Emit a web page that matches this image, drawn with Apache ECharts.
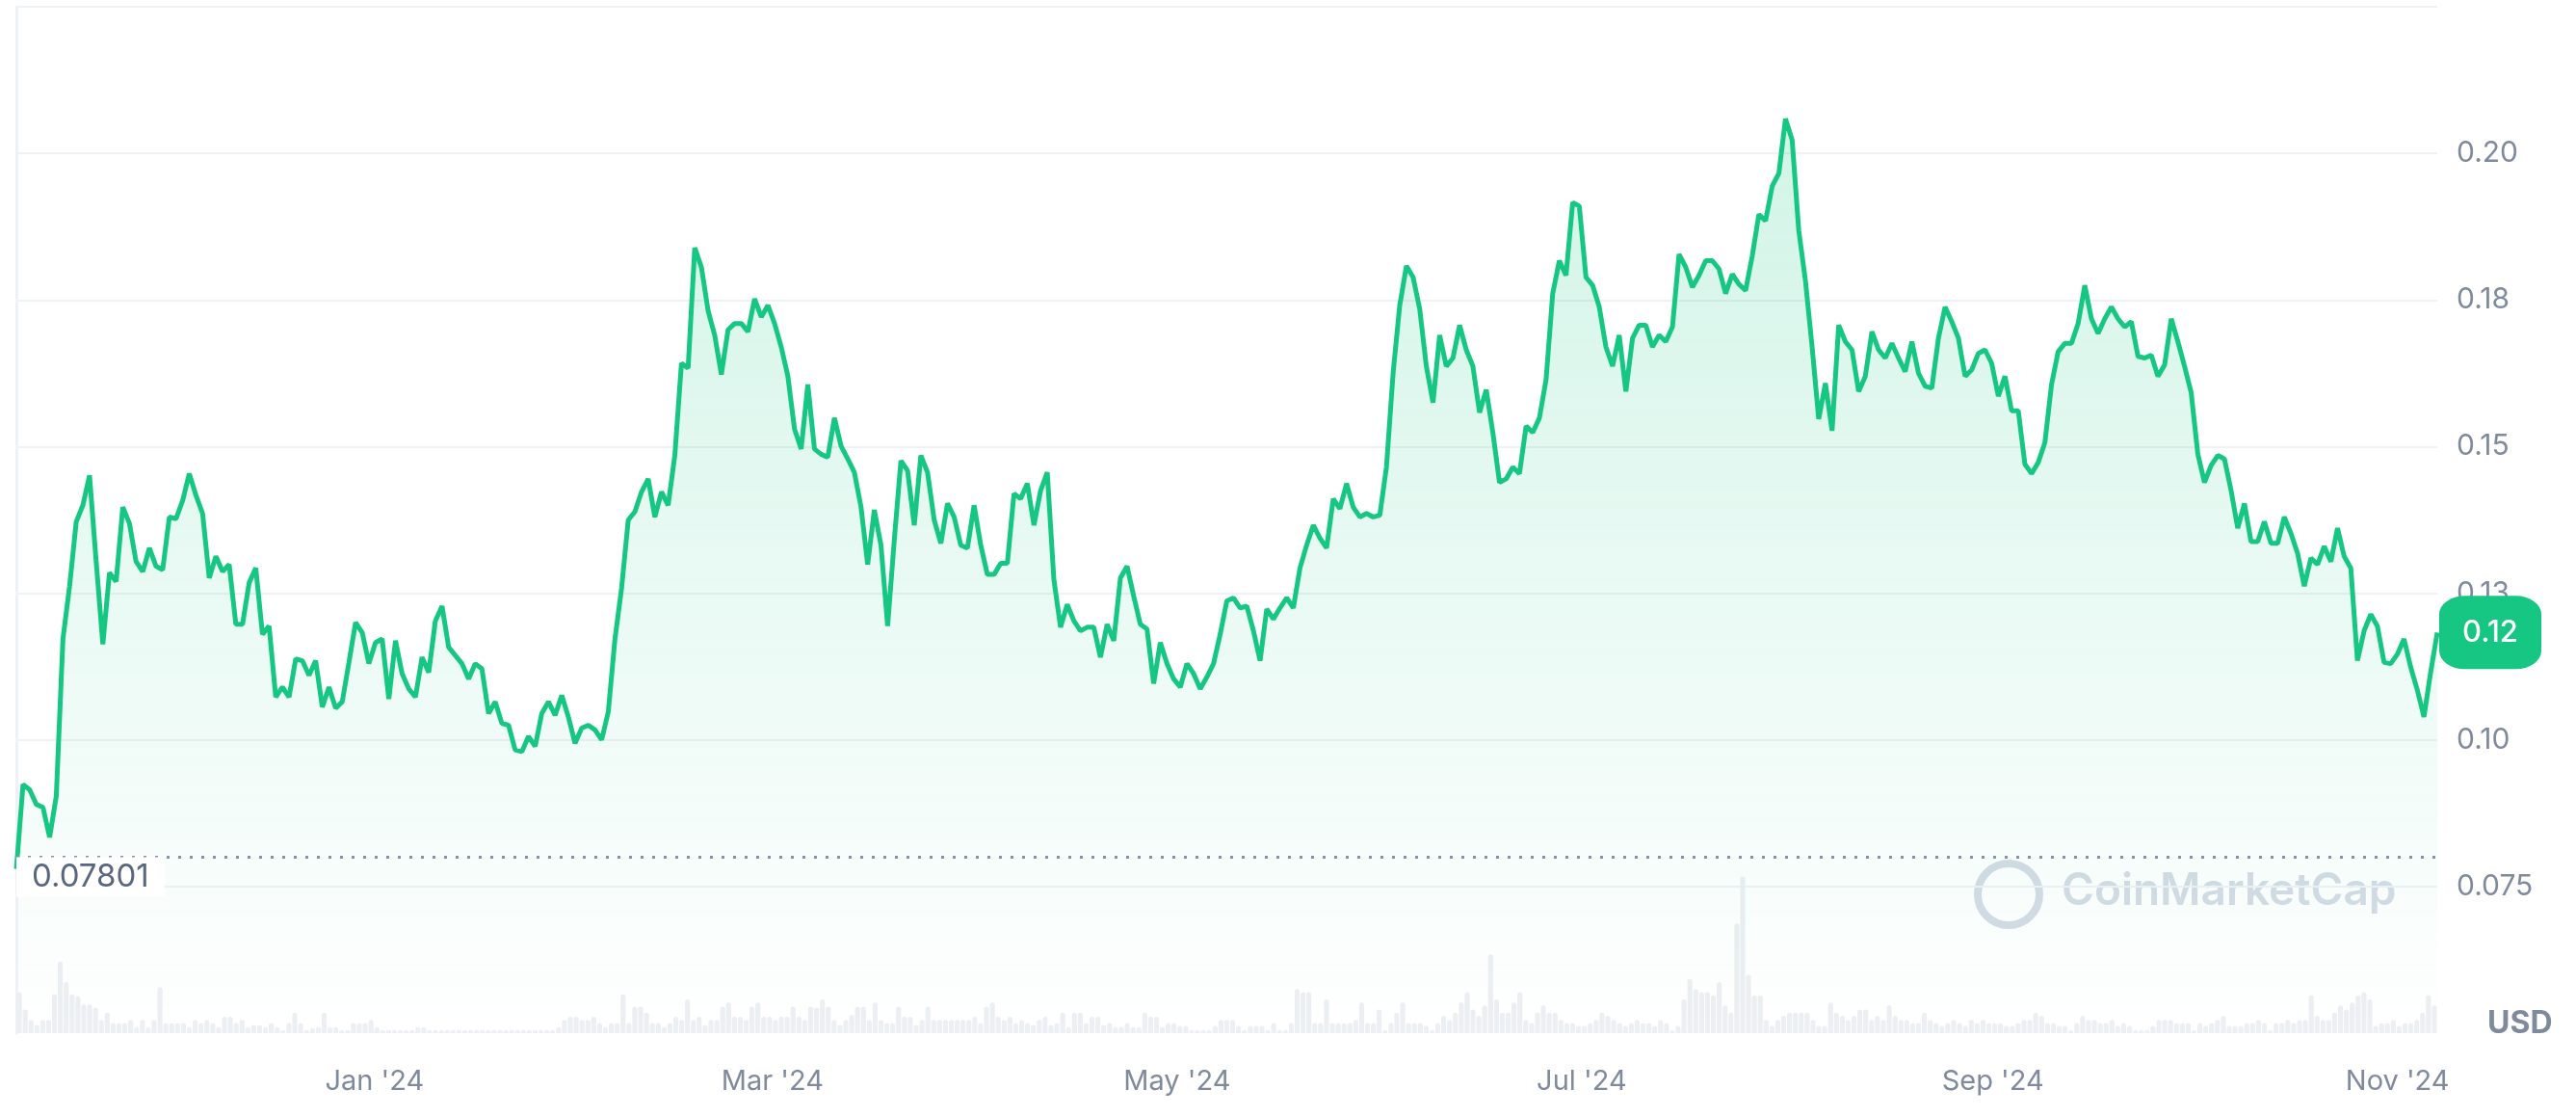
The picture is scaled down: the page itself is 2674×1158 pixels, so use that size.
<!DOCTYPE html>
<html>
<head>
<meta charset="utf-8">
<script src="https://cdn.jsdelivr.net/npm/echarts@6/dist/echarts.min.js"></script>
<style>
  html, body { margin: 0; padding: 0; background: #fff; }
  #chart { width: 2674px; height: 1158px; }
</style>
</head>
<body>
<div id="chart"></div>
<script>
// price, about one point per day
const prices = [
  0.0780, 0.0924, 0.0915, 0.0890, 0.0885, 0.0834, 0.0904, 0.1172, 0.1262, 0.1372,
  0.1400, 0.1451, 0.1304, 0.1163, 0.1285, 0.1270, 0.1397, 0.1369, 0.1304, 0.1287,
  0.1327, 0.1296, 0.1290, 0.1380, 0.1377, 0.1408, 0.1454, 0.1417, 0.1386, 0.1276,
  0.1313, 0.1287, 0.1299, 0.1197, 0.1197, 0.1268, 0.1293, 0.1180, 0.1194, 0.1073,
  0.1090, 0.1073, 0.1138, 0.1135, 0.1110, 0.1135, 0.1056, 0.1090, 0.1054, 0.1065,
  0.1132, 0.1200, 0.1183, 0.1130, 0.1166, 0.1172, 0.1070, 0.1169, 0.1113, 0.1087,
  0.1073, 0.1141, 0.1115, 0.1203, 0.1228, 0.1158, 0.1144, 0.1130, 0.1104, 0.1130,
  0.1121, 0.1045, 0.1065, 0.1028, 0.1025, 0.0983, 0.0980, 0.1006, 0.0989, 0.1045,
  0.1065, 0.1042, 0.1076, 0.1039, 0.0994, 0.1020, 0.1025, 0.1017, 0.1000, 0.1048,
  0.1172, 0.1259, 0.1375, 0.1389, 0.1423, 0.1445, 0.1380, 0.1423, 0.1400, 0.1485,
  0.1642, 0.1634, 0.1839, 0.1806, 0.1732, 0.1690, 0.1623, 0.1699, 0.1710, 0.1710,
  0.1696, 0.1752, 0.1721, 0.1741, 0.1710, 0.1670, 0.1620, 0.1530, 0.1496, 0.1606,
  0.1496, 0.1487, 0.1482, 0.1549, 0.1501, 0.1479, 0.1456, 0.1397, 0.1299, 0.1392,
  0.1332, 0.1194, 0.1341, 0.1476, 0.1459, 0.1366, 0.1485, 0.1456, 0.1375, 0.1335,
  0.1403, 0.1380, 0.1332, 0.1327, 0.1400, 0.1332, 0.1282, 0.1282, 0.1301, 0.1301,
  0.1420, 0.1411, 0.1437, 0.1366, 0.1425, 0.1456, 0.1273, 0.1192, 0.1231, 0.1203,
  0.1186, 0.1192, 0.1192, 0.1141, 0.1197, 0.1169, 0.1276, 0.1296, 0.1245, 0.1197,
  0.1189, 0.1096, 0.1166, 0.1130, 0.1104, 0.1090, 0.1130, 0.1113, 0.1087, 0.1107,
  0.1130, 0.1180, 0.1237, 0.1242, 0.1225, 0.1228, 0.1186, 0.1135, 0.1223, 0.1206,
  0.1225, 0.1242, 0.1225, 0.1293, 0.1332, 0.1366, 0.1344, 0.1327, 0.1411, 0.1394,
  0.1437, 0.1397, 0.1380, 0.1386, 0.1380, 0.1383, 0.1465, 0.1625, 0.1741, 0.1808,
  0.1789, 0.1735, 0.1637, 0.1575, 0.1690, 0.1637, 0.1651, 0.1707, 0.1665, 0.1637,
  0.1558, 0.1597, 0.1524, 0.1439, 0.1445, 0.1465, 0.1454, 0.1535, 0.1524, 0.1549,
  0.1614, 0.1761, 0.1817, 0.1792, 0.1916, 0.1910, 0.1789, 0.1775, 0.1738, 0.1670,
  0.1637, 0.1690, 0.1594, 0.1685, 0.1707, 0.1707, 0.1670, 0.1690, 0.1679, 0.1704,
  0.1828, 0.1806, 0.1772, 0.1792, 0.1817, 0.1817, 0.1803, 0.1761, 0.1794, 0.1777,
  0.1766, 0.1825, 0.1896, 0.1885, 0.1944, 0.1966, 0.2059, 0.2023, 0.1868, 0.1783,
  0.1670, 0.1547, 0.1608, 0.1527, 0.1707, 0.1679, 0.1665, 0.1594, 0.1620, 0.1696,
  0.1665, 0.1651, 0.1676, 0.1651, 0.1628, 0.1679, 0.1625, 0.1603, 0.1600, 0.1685,
  0.1738, 0.1713, 0.1685, 0.1620, 0.1631, 0.1659, 0.1665, 0.1642, 0.1586, 0.1620,
  0.1561, 0.1561, 0.1470, 0.1454, 0.1473, 0.1507, 0.1606, 0.1662, 0.1676, 0.1676,
  0.1710, 0.1775, 0.1718, 0.1693, 0.1718, 0.1738, 0.1718, 0.1704, 0.1713, 0.1654,
  0.1651, 0.1656, 0.1620, 0.1639, 0.1718, 0.1679, 0.1637, 0.1592, 0.1487, 0.1439,
  0.1468, 0.1485, 0.1479, 0.1425, 0.1361, 0.1403, 0.1338, 0.1338, 0.1372, 0.1335,
  0.1335, 0.1380, 0.1352, 0.1318, 0.1262, 0.1310, 0.1299, 0.1330, 0.1304, 0.1361,
  0.1313, 0.1293, 0.1135, 0.1186, 0.1214, 0.1194, 0.1132, 0.1130, 0.1146, 0.1172,
  0.1124, 0.1085, 0.1039, 0.1115, 0.1183
];

// volume bars, relative heights
const volumes = [
  40, 23, 13, 8, 13, 13, 38, 70, 50, 38, 36, 28, 28, 25, 13, 20, 10, 10, 10, 13,
  6, 13, 6, 13, 45, 10, 10, 10, 10, 6, 13, 10, 13, 10, 6, 16, 16, 10, 13, 6,
  8, 8, 6, 10, 6, 3, 10, 20, 10, 3, 5, 6, 20, 6, 6, 3, 3, 10, 10, 10,
  13, 6, 3, 3, 3, 3, 3, 3, 6, 6, 3, 3, 3, 3, 3, 3, 3, 3, 3, 3,
  3, 3, 3, 3, 3, 3, 3, 3, 3, 3, 3, 3, 6, 13, 16, 16, 13, 13, 16, 10,
  6, 10, 10, 38, 10, 26, 26, 20, 10, 10, 6, 10, 16, 13, 33, 13, 16, 8, 13, 13,
  26, 30, 16, 16, 13, 26, 30, 16, 16, 13, 16, 16, 26, 16, 13, 26, 25, 33, 26, 13,
  8, 13, 18, 26, 26, 13, 30, 13, 10, 10, 26, 16, 16, 8, 13, 26, 13, 13, 13, 13,
  13, 13, 13, 16, 10, 26, 30, 16, 13, 16, 10, 13, 10, 8, 13, 16, 8, 10, 20, 6,
  20, 20, 10, 16, 16, 8, 10, 6, 6, 10, 6, 6, 20, 16, 16, 6, 10,
  10, 7, 7, 3, 3, 3, 3, 7, 13, 13, 13, 7, 3, 7, 7, 7, 3, 10, 3, 3,
  10, 43, 40, 40, 10, 10, 33, 10, 10, 10, 10, 13, 30, 10, 10, 23, 3, 10, 20, 30,
  10, 10, 10, 7, 3, 10, 17, 13, 20, 30, 40, 23, 17, 27, 77, 33, 20, 20, 30, 40,
  13, 10, 20, 27, 20, 20, 13, 10, 10, 7, 7, 10, 13, 20, 17, 13, 10, 7, 10, 13,
  10, 10, 7, 13, 10, 3, 7, 33, 53, 43, 40, 40, 37, 50, 27, 20, 107, 153, 57, 37,
  37, 13, 7, 13, 17, 20, 20, 20, 20, 13, 7, 7, 30, 20, 17, 13, 17, 23, 23, 13,
  17, 13, 27, 17, 13, 13, 10, 10, 20, 13, 10, 7, 10, 13, 10, 7, 13, 10, 13, 10,
  10, 10, 7, 7, 10, 13, 13, 20, 17, 10, 10, 7, 7, 3, 10, 17, 13, 13, 10, 10,
  13, 7, 10, 7, 3, 3, 3, 7, 13, 13, 13, 10, 10, 10, 3, 10, 7, 10, 13, 17,
  7, 7, 7, 10, 10, 13, 10, 3, 10, 10, 13, 10, 13, 13, 37, 17, 13, 13, 20, 27,
  23, 30, 37, 40, 33, 7, 10, 10, 13, 7, 10, 10, 13, 20, 37, 27
];

// days counted from 8 Nov 2023; the series ends on 7 Nov 2024 (day 365)
const totalDays = 365;
const monthDays = [54, 114, 175, 236, 298, 359];
const monthLabels = ["Jan '24", "Mar '24", "May '24", "Jul '24", "Sep '24", "Nov '24"];
const yTicks = [0.075, 0.1, 0.125, 0.15, 0.175, 0.2];
const yLabels = ['0.075', '0.10', '0.13', '0.15', '0.18', '0.20'];
const lowPrice = 0.07801;
const lastLabel = '0.12';

const step = totalDays / (prices.length - 1);
const priceData = prices.map((v, i) => [i * step, v]);

const chart = echarts.init(document.getElementById('chart'));
const labelColor = '#808a9d';

chart.setOption({
  animation: false,
  grid: [
    { left: 17, right: 144, top: 7, height: 1065 },
    { left: 17, right: 144, top: 902, height: 170 }
  ],
  xAxis: [
    {
      type: 'value', gridIndex: 0, min: 0, max: totalDays,
      axisLine: { show: false }, axisTick: { show: false },
      splitLine: { show: false },
      axisLabel: {
        customValues: monthDays,
        color: labelColor, fontSize: 29, fontFamily: 'Inter', margin: 36,
        formatter: (val) => {
          const i = monthDays.indexOf(val);
          return i >= 0 ? monthLabels[i] : '';
        }
      }
    },
    {
      type: 'category', gridIndex: 1, data: volumes.map((v, i) => i),
      show: false
    }
  ],
  yAxis: [
    {
      type: 'value', gridIndex: 0, position: 'right', min: 0.05, max: 0.225, interval: 0.025,
      axisLine: { show: true, lineStyle: { color: '#eff2f5', width: 3 } },
      axisTick: { show: false },
      splitLine: {
        lineStyle: {
          color: ['rgba(0,0,0,0)', '#eff2f5', '#eff2f5', '#eff2f5', '#eff2f5', '#eff2f5', '#eff2f5', '#eff2f5'],
          width: 2
        }
      },
      axisLabel: {
        color: labelColor, fontSize: 30, fontFamily: 'Inter', margin: 20,
        formatter: (v) => {
          const i = yTicks.findIndex(t => Math.abs(t - v) < 1e-9);
          return i >= 0 ? yLabels[i] : '';
        }
      }
    },
    {
      type: 'value', gridIndex: 1, min: 0, max: 160, show: false
    }
  ],
  graphic: [
    {
      type: 'text', left: 2582, top: 1046,
      style: { text: 'USD', fill: labelColor, font: 'bold 32px Inter' }
    },
    {
      type: 'circle', shape: { cx: 2085, cy: 928, r: 32 },
      style: { fill: 'none', stroke: '#d5dbe6', lineWidth: 8 }
    },
    {
      type: 'text', left: 2140, top: 902,
      style: { text: 'CoinMarketCap', fill: '#d5dbe6', font: '600 46px Inter' }
    }
  ],
  series: [
    {
      type: 'bar', xAxisIndex: 1, yAxisIndex: 1, data: volumes,
      barCategoryGap: '15%',
      itemStyle: { color: '#eceff3', borderRadius: [3, 3, 0, 0] },
      silent: true
    },
    {
      type: 'line', xAxisIndex: 0, yAxisIndex: 0, data: priceData,
      showSymbol: false,
      lineStyle: { color: '#16c784', width: 5 },
      areaStyle: {
        color: new echarts.graphic.LinearGradient(0, 0, 0, 1, [
          { offset: 0, color: 'rgba(22,199,132,0.28)' },
          { offset: 1, color: 'rgba(22,199,132,0.0)' }
        ])
      },
      markLine: {
        silent: true, symbol: 'none',
        data: [
          {
            yAxis: lowPrice,
            lineStyle: { color: '#8a93a6', type: [3, 9], width: 3 },
            label: {
              position: 'insideStartBottom', distance: [0, 0],
              formatter: '0.07801', color: '#58667e', fontSize: 33, fontFamily: 'Inter',
              backgroundColor: '#fff', padding: [4, 16]
            }
          }
        ]
      },
      markPoint: {
        silent: true,
        data: [{
          coord: [totalDays, prices[prices.length - 1]],
          symbol: 'roundRect', symbolSize: [106, 76], symbolOffset: [55, 0],
          itemStyle: { color: '#16c784' },
          label: {
            show: true, formatter: lastLabel, color: '#fff',
            fontSize: 31, fontFamily: 'Inter', fontWeight: 500
          }
        }]
      }
    }
  ]
});
</script>
</body>
</html>
